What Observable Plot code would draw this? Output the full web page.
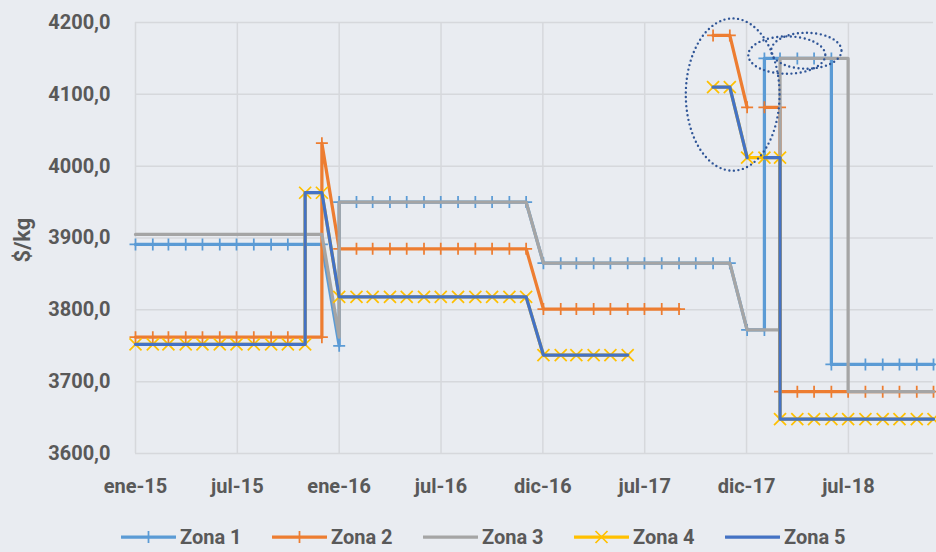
<!DOCTYPE html>
<html><head><meta charset="utf-8">
<script src="https://cdn.jsdelivr.net/npm/d3@7"></script>
<script src="https://cdn.jsdelivr.net/npm/@observablehq/plot@0.6"></script>
<style>
html,body{margin:0;padding:0;background:#E9ECF1;}
body{width:936px;height:552px;overflow:hidden;position:relative;font-family:Roboto,"Liberation Sans",sans-serif;color:#595959;}
#ytitle{position:absolute;left:22px;top:240px;transform:translate(-50%,-50%) rotate(-90deg);font-weight:bold;font-size:22px;white-space:nowrap;}
#legend{position:absolute;left:121px;top:522px;height:30px;display:flex;align-items:center;}
.item{display:flex;align-items:center;width:151px;font-weight:bold;font-size:20px;}
.item svg{margin-right:4px;}
</style></head><body>
<div id="chart"></div>
<div id="ytitle">$/kg</div>
<div id="legend"></div>
<script>
// ---------- DATA ----------
const series = ["Zona 1","Zona 2","Zona 3","Zona 4","Zona 5"];
const colors = ["#5B9BD5","#ED7D31","#A5A5A5","#FFC000","#4472C4"];
const markers = ["plus","plus",null,"times",null];

const zona1 = [
 ["2015-01",3891],["2015-02",3891],["2015-03",3891],["2015-04",3891],["2015-05",3891],["2015-06",3891],
 ["2015-07",3891],["2015-08",3891],["2015-09",3891],["2015-10",3891],["2015-11",3891],["2015-12",3891],
 ["2016-01",3750],["2016-01",3950],["2016-02",3950],["2016-03",3950],["2016-04",3950],["2016-05",3950],
 ["2016-06",3950],["2016-07",3950],["2016-08",3950],["2016-09",3950],["2016-10",3950],["2016-11",3950],["2016-12",3950],
 ["2017-01",3865],["2017-02",3865],["2017-03",3865],["2017-04",3865],["2017-05",3865],["2017-06",3865],
 ["2017-07",3865],["2017-08",3865],["2017-09",3865],["2017-10",3865],["2017-11",3865],["2017-12",3865],
 ["2018-01",3772],["2018-02",3772],["2018-02",4150],["2018-03",4150],["2018-04",4150],["2018-05",4150],["2018-06",4150],
 ["2018-06",3724],["2018-07",3724],["2018-08",3724],["2018-09",3724],["2018-10",3724],["2018-11",3724],["2018-12",3724]
];
const zona2 = [
 ["2015-01",3762],["2015-02",3762],["2015-03",3762],["2015-04",3762],["2015-05",3762],["2015-06",3762],
 ["2015-07",3762],["2015-08",3762],["2015-09",3762],["2015-10",3762],["2015-11",3762],["2015-12",3762],["2015-12",4032],
 ["2016-01",3885],["2016-02",3885],["2016-03",3885],["2016-04",3885],["2016-05",3885],["2016-06",3885],
 ["2016-07",3885],["2016-08",3885],["2016-09",3885],["2016-10",3885],["2016-11",3885],["2016-12",3885],
 ["2017-01",3801],["2017-02",3801],["2017-03",3801],["2017-04",3801],["2017-05",3801],["2017-06",3801],
 ["2017-07",3801],["2017-08",3801],["2017-09",3801],["2017-10",null],
 ["2017-11",4182],["2017-12",4182],["2018-01",4082],["2018-02",null],
 ["2018-02",4082],["2018-03",4082],["2018-03",3686],["2018-04",3686],["2018-05",3686],["2018-06",3686],
 ["2018-07",3686],["2018-08",3686],["2018-09",3686],["2018-10",3686],["2018-11",3686],["2018-12",3686]
];
const zona3 = [
 ["2015-01",3905],["2015-02",3905],["2015-03",3905],["2015-04",3905],["2015-05",3905],["2015-06",3905],
 ["2015-07",3905],["2015-08",3905],["2015-09",3905],["2015-10",3905],["2015-11",3905],["2015-12",3905],
 ["2016-01",3762],["2016-01",3950],["2016-02",3950],["2016-03",3950],["2016-04",3950],["2016-05",3950],
 ["2016-06",3950],["2016-07",3950],["2016-08",3950],["2016-09",3950],["2016-10",3950],["2016-11",3950],["2016-12",3950],
 ["2017-01",3865],["2017-02",3865],["2017-03",3865],["2017-04",3865],["2017-05",3865],["2017-06",3865],
 ["2017-07",3865],["2017-08",3865],["2017-09",3865],["2017-10",3865],["2017-11",3865],["2017-12",3865],
 ["2018-01",3772],["2018-02",3772],["2018-03",3772],["2018-03",4150],["2018-04",4150],["2018-05",4150],["2018-06",4150],
 ["2018-07",4150],["2018-07",3686],["2018-08",3686],["2018-09",3686],["2018-10",3686],["2018-11",3686],["2018-12",3686]
];
const zona4 = [
 ["2015-01",3752],["2015-02",3752],["2015-03",3752],["2015-04",3752],["2015-05",3752],["2015-06",3752],
 ["2015-07",3752],["2015-08",3752],["2015-09",3752],["2015-10",3752],["2015-11",3752],["2015-11",3963],["2015-12",3963],
 ["2016-01",3818],["2016-02",3818],["2016-03",3818],["2016-04",3818],["2016-05",3818],["2016-06",3818],
 ["2016-07",3818],["2016-08",3818],["2016-09",3818],["2016-10",3818],["2016-11",3818],["2016-12",3818],
 ["2017-01",3737],["2017-02",3737],["2017-03",3737],["2017-04",3737],["2017-05",3737],["2017-06",3737],["2017-07",null],
 ["2017-11",4110],["2017-12",4110],["2018-01",4012],["2018-02",4012],["2018-03",4012],["2018-03",3648],
 ["2018-04",3648],["2018-05",3648],["2018-06",3648],["2018-07",3648],["2018-08",3648],["2018-09",3648],
 ["2018-10",3648],["2018-11",3648],["2018-12",3648]
];
const zona5 = [
 ["2015-01",3752],["2015-02",3752],["2015-03",3752],["2015-04",3752],["2015-05",3752],["2015-06",3752],
 ["2015-07",3752],["2015-08",3752],["2015-09",3752],["2015-10",3752],["2015-11",3752],["2015-11",3963],["2015-12",3963],
 ["2016-01",3818],["2016-02",3818],["2016-03",3818],["2016-04",3818],["2016-05",3818],["2016-06",3818],
 ["2016-07",3818],["2016-08",3818],["2016-09",3818],["2016-10",3818],["2016-11",3818],["2016-12",3818],
 ["2017-01",3737],["2017-02",3737],["2017-03",3737],["2017-04",3737],["2017-05",3737],["2017-06",3737],["2017-07",null],
 ["2017-11",4110],["2017-12",4110],["2018-01",4012],["2018-02",null],["2018-02",4012],["2018-03",4012],["2018-03",3648],
 ["2018-04",3648],["2018-05",3648],["2018-06",3648],["2018-07",3648],["2018-08",3648],["2018-09",3648],
 ["2018-10",3648],["2018-11",3648],["2018-12",3648]
];
const zonas = [zona1, zona2, zona3, zona4, zona5];

const xTickDates = ["2015-01-01","2015-07-02T12:00:00Z","2016-01-01","2016-07-01T12:00:00Z",
                    "2016-12-31","2017-07-01T12:00:00Z","2017-12-31","2018-07-01T12:00:00Z"];
const xTickLabels = ["ene-15","jul-15","ene-16","jul-16","dic-16","jul-17","dic-17","jul-18"];
const yTicks = [3600,3700,3800,3900,4000,4100,4200];
const xDomain = ["2015-01-01","2018-12-01"];
const yDomain = [3600,4200];

// annotation ellipses: center date, center value, half-width (days), half-height (value)
const ellipses = [
  ["2017-12-07", 4099, 84, 106],
  ["2018-03-14", 4154, 69, 26],
  ["2018-04-18", 4160, 63, 25]
];

// ---------- BUILD ----------
const month = s => new Date(s + "-01T00:00:00Z");
const rows = zonas.map((z, k) => z.map(([m, v]) => ({zona: series[k], date: month(m), value: v})));
const tickDates = xTickDates.map(s => new Date(s));
const labelMap = new Map(tickDates.map((d, i) => [+d, xTickLabels[i]]));

const symPlus = {draw(ctx){ const h = 6; ctx.moveTo(-h,0); ctx.lineTo(h,0); ctx.moveTo(0,-h); ctx.lineTo(0,h); }};
const symTimes = {draw(ctx){ const h = 6; ctx.moveTo(-h,-h); ctx.lineTo(h,h); ctx.moveTo(-h,h); ctx.lineTo(h,-h); }};
const symFor = m => m === "plus" ? symPlus : symTimes;

const grid = "#D6D8DC";
const marks = [
  Plot.ruleY(yTicks, {y: d => d, stroke: grid, strokeWidth: 1.5}),
  Plot.ruleX(tickDates, {x: d => d, stroke: grid, strokeWidth: 1.5}),
  Plot.axisY({ticks: yTicks, tickSize: 0, tickPadding: 25, tickFormat: d => d.toFixed(1).replace(".", ","), label: null}),
  Plot.axisX({ticks: tickDates, tickSize: 0, tickPadding: 25, tickFormat: d => labelMap.get(+d), label: null})
];
rows.forEach((r, k) => {
  marks.push(Plot.line(r, {x: "date", y: "value", stroke: colors[k], strokeWidth: 3.25, curve: "linear"}));
  if (markers[k]) marks.push(Plot.dot(r.filter(d => d.value != null),
      {x: "date", y: "value", symbol: symFor(markers[k]), r: 6, fill: "none", stroke: colors[k], strokeWidth: 1.75}));
});

const plot = Plot.plot({
  width: 936, height: 512,
  marginLeft: 135, marginRight: 3, marginTop: 22, marginBottom: 59,
  style: {background: "transparent", fontFamily: "Roboto, sans-serif", fontSize: "20px", fontWeight: "bold", color: "#595959", overflow: "visible"},
  x: {type: "utc", domain: xDomain.map(s => new Date(s))},
  y: {domain: yDomain},
  marks
});
document.getElementById("chart").appendChild(plot);

const xs = plot.scale("x"), ys = plot.scale("y");
const g = d3.select(plot).append("g").attr("fill", "none").attr("stroke", "#2F5597")
  .attr("stroke-width", 2.4).attr("stroke-linecap", "round").attr("stroke-dasharray", "0 4.6");
ellipses.forEach(([c, v, dd, dv]) => {
  const cd = new Date(c);
  const cx = xs.apply(cd), cy = ys.apply(v);
  const rx = xs.apply(new Date(+cd + dd * 864e5)) - cx;
  const ry = cy - ys.apply(v + dv);
  g.append("ellipse").attr("cx", cx).attr("cy", cy).attr("rx", rx).attr("ry", ry);
});

// legend
const leg = d3.select("#legend");
series.forEach((s, k) => {
  const it = leg.append("div").attr("class", "item");
  const sv = it.append("svg").attr("width", 55).attr("height", 16);
  sv.append("line").attr("x1", 1).attr("x2", 54).attr("y1", 8).attr("y2", 8)
    .attr("stroke", colors[k]).attr("stroke-width", 3.25).attr("stroke-linecap", "round");
  if (markers[k] === "plus") sv.append("path").attr("d", "M21.5,8H33.5M27.5,2V14").attr("stroke", colors[k]).attr("stroke-width", 1.75);
  if (markers[k] === "times") sv.append("path").attr("d", "M21.5,2L33.5,14M21.5,14L33.5,2").attr("stroke", colors[k]).attr("stroke-width", 1.75);
  it.append("span").text(s);
});
</script></body></html>
